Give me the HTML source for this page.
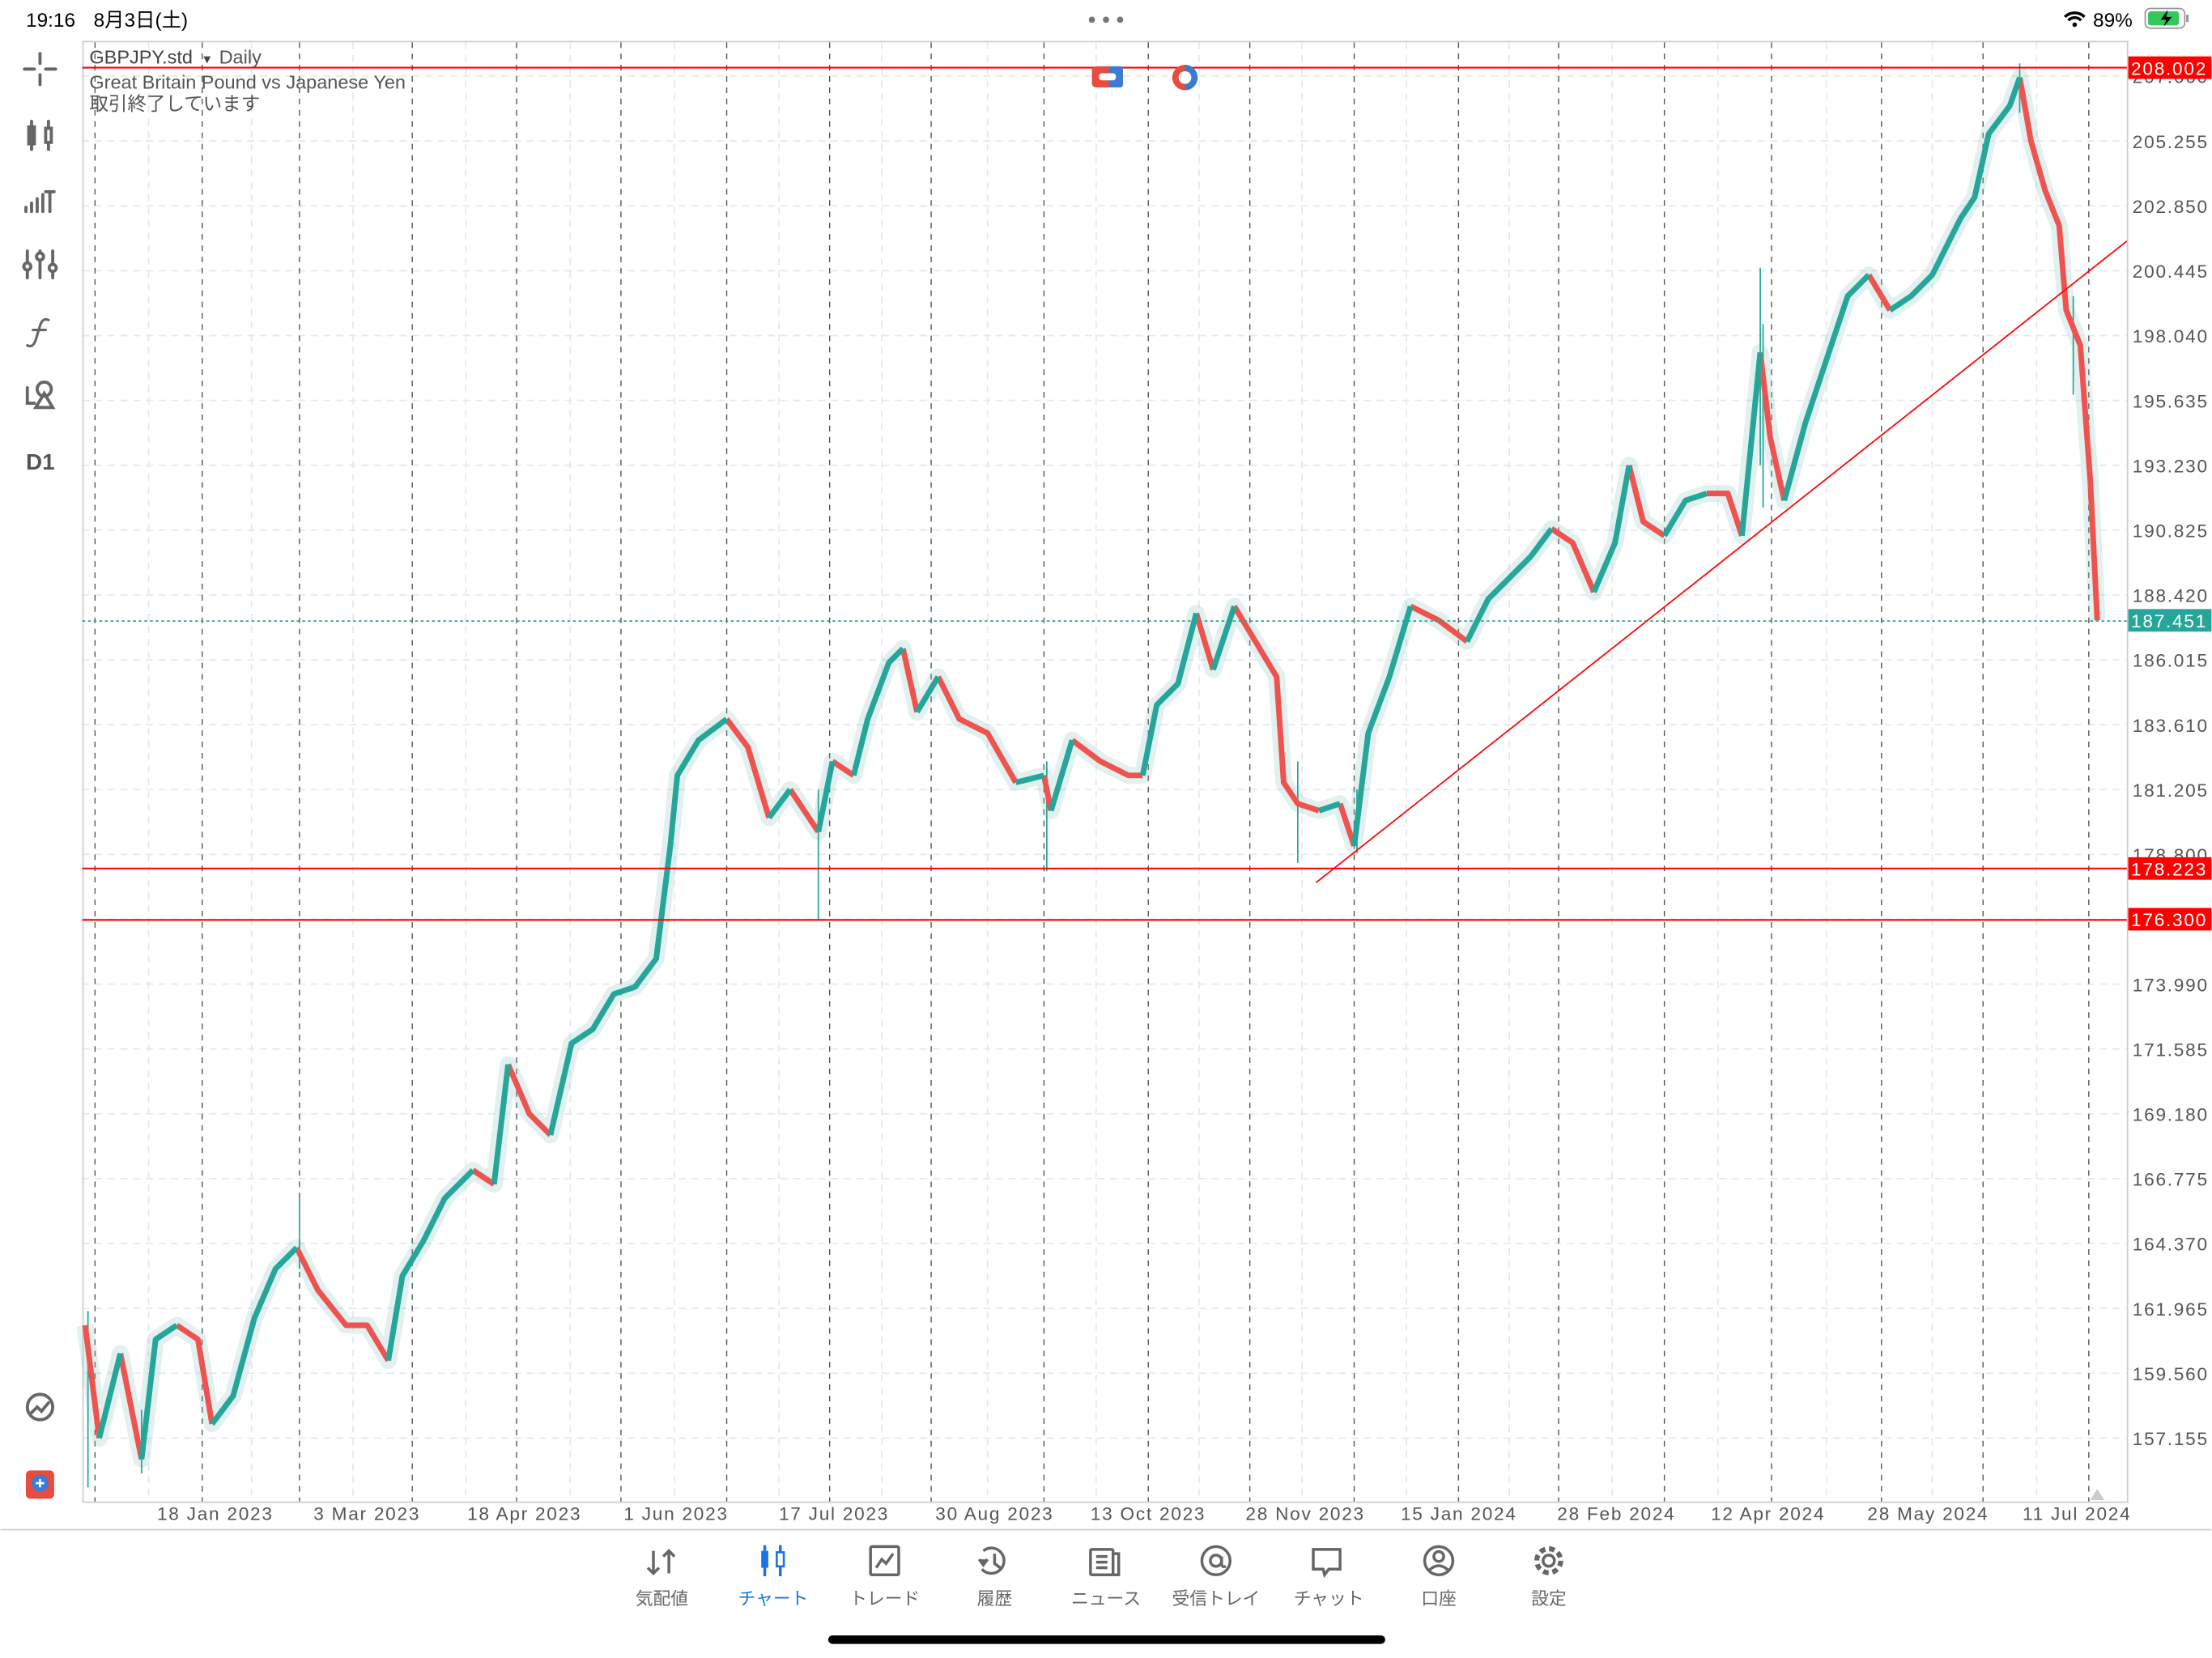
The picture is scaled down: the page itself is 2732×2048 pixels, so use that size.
<!DOCTYPE html>
<html><head><meta charset="utf-8"><style>
html,body{margin:0;padding:0;background:#fff;width:2732px;height:2048px;overflow:hidden}
svg{display:block}
text{font-family:"Liberation Sans","Noto Sans CJK JP",sans-serif}
</style></head><body>
<svg width="2732" height="2048" viewBox="0 0 1568 1176" xmlns="http://www.w3.org/2000/svg">
<rect width="1568" height="1176" fill="#fff"/>
<text x="18" y="19" font-size="14" fill="#000">19:16</text>
<text x="66" y="19" font-size="14" fill="#000">8月3日(土)</text>
<g fill="#777"><circle cx="774" cy="14" r="2.2"/><circle cx="784" cy="14" r="2.2"/><circle cx="794" cy="14" r="2.2"/></g>
<path d="M1464 12 a10 10 0 0 1 14 0 M1466.5 14.5 a6 6 0 0 1 9 0" stroke="#000" stroke-width="2" fill="none"/><circle cx="1471" cy="17.5" r="1.6"/>
<text x="1484" y="19" font-size="14" fill="#000">89%</text>
<rect x="1521" y="6" width="28" height="14" rx="3.5" fill="none" stroke="#999" stroke-width="1"/>
<rect x="1523" y="8" width="22" height="10" rx="2" fill="#34c759"/>
<rect x="1550" y="10.5" width="1.8" height="5" fill="#999"/>
<path d="M1537 7 l-5 7 h4 l-2 5 l6 -7 h-4 z" fill="#000"/>

<g stroke="#e3e9ef" stroke-width="1" stroke-dasharray="5,4">
<path d="M58 54H1508M58 100H1508M58 146H1508M58 192H1508M58 238H1508M58 284H1508M58 330H1508M58 376H1508M58 422H1508M58 468H1508M58 514H1508M58 560H1508M58 606H1508M58 652H1508M58 698H1508M58 744H1508M58 790H1508M58 836H1508M58 882H1508M58 928H1508M58 974H1508M58 1020H1508"/>
<path d="M105 30V1065M178 30V1065M250 30V1065M330 30V1065M404 30V1065M478 30V1065M552 30V1065M625 30V1065M700 30V1065M777 30V1065M850 30V1065M923 30V1065M997 30V1065M1070 30V1065M1143 30V1065M1218 30V1065M1295 30V1065M1370 30V1065M1444 30V1065"/>
</g>
<g stroke="#555" stroke-width="0.8" stroke-dasharray="4,4">
<path d="M67 30V1065M143 30V1065M212 30V1065M292 30V1065M366 30V1065M440 30V1065M515 30V1065M588 30V1065M660 30V1065M740 30V1065M814 30V1065M886 30V1065M960 30V1065M1034 30V1065M1105 30V1065M1180 30V1065M1256 30V1065M1334 30V1065M1406 30V1065M1481 30V1065"/>
</g>
<rect x="58.5" y="29.5" width="1450" height="1036" fill="none" stroke="#ccc" stroke-width="1"/>
<line x1="0" y1="1085" x2="1568" y2="1085" stroke="#ccc" stroke-width="1"/>

<polyline fill="none" stroke="#8cc7c0" stroke-opacity="0.25" stroke-width="12" stroke-linejoin="round" points="60,940 70,1020 85,960 100,1035 110,950 125,940 140,950 150,1010 165,990 180,935 195,900 210,885 225,915 245,940 260,940 275,965 285,905 300,880 315,850 335,830 350,840 360,755 375,790 390,805 405,740 420,730 435,705 450,700 465,680 475,600 480,550 495,525 515,510 530,530 545,580 560,560 580,590 590,540 605,550 615,510 630,470 640,460 650,505 665,480 680,510 700,520 720,555 740,550 745,575 760,525 780,540 800,550 810,550 820,500 835,485 848,435 860,475 875,430 890,455 905,480 910,555 920,570 935,575 950,570 960,600 970,520 985,480 1000,430 1020,440 1040,455 1055,425 1070,410 1085,395 1100,375 1115,385 1130,420 1145,385 1155,330 1165,370 1180,380 1195,355 1210,350 1225,350 1235,380 1248,250 1255,310 1265,355 1280,300 1295,255 1310,210 1325,195 1340,220 1355,210 1370,195 1390,155 1400,140 1410,95 1425,75 1432,55 1440,100 1450,135 1460,160 1465,220 1475,245 1482,340 1487,440"/>
<g fill="none" stroke-width="1" stroke="#26a69a">
<path d="M62 930V1055M100 1000V1045M212 850V900M580 560V652M742 540V618M920 540V612M962 560V605M1248 190V330M1250 230V360M1432 45V80M1470 210V280"/>
</g>
<g fill="none" stroke-width="4" stroke-linejoin="round" stroke="#ef5350">
<polyline points="60,940 70,1020"/>
<polyline points="85,960 100,1035"/>
<polyline points="125,940 140,950 150,1010"/>
<polyline points="210,885 225,915 245,940 260,940 275,965"/>
<polyline points="335,830 350,840"/>
<polyline points="360,755 375,790 390,805"/>
<polyline points="515,510 530,530 545,580"/>
<polyline points="560,560 580,590"/>
<polyline points="590,540 605,550"/>
<polyline points="640,460 650,505"/>
<polyline points="665,480 680,510 700,520 720,555"/>
<polyline points="740,550 745,575"/>
<polyline points="760,525 780,540 800,550 810,550"/>
<polyline points="848,435 860,475"/>
<polyline points="875,430 890,455 905,480 910,555 920,570 935,575"/>
<polyline points="950,570 960,600"/>
<polyline points="1000,430 1020,440 1040,455"/>
<polyline points="1100,375 1115,385 1130,420"/>
<polyline points="1155,330 1165,370 1180,380"/>
<polyline points="1210,350 1225,350 1235,380"/>
<polyline points="1248,250 1255,310 1265,355"/>
<polyline points="1325,195 1340,220"/>
<polyline points="1432,55 1440,100 1450,135 1460,160 1465,220 1475,245 1482,340 1487,440"/>
</g>
<g fill="none" stroke-width="4" stroke-linejoin="round" stroke="#26a69a">
<polyline points="70,1020 85,960"/>
<polyline points="100,1035 110,950 125,940"/>
<polyline points="150,1010 165,990 180,935 195,900 210,885"/>
<polyline points="275,965 285,905 300,880 315,850 335,830"/>
<polyline points="350,840 360,755"/>
<polyline points="390,805 405,740 420,730 435,705 450,700 465,680 475,600 480,550 495,525 515,510"/>
<polyline points="545,580 560,560"/>
<polyline points="580,590 590,540"/>
<polyline points="605,550 615,510 630,470 640,460"/>
<polyline points="650,505 665,480"/>
<polyline points="720,555 740,550"/>
<polyline points="745,575 760,525"/>
<polyline points="810,550 820,500 835,485 848,435"/>
<polyline points="860,475 875,430"/>
<polyline points="935,575 950,570"/>
<polyline points="960,600 970,520 985,480 1000,430"/>
<polyline points="1040,455 1055,425 1070,410 1085,395 1100,375"/>
<polyline points="1130,420 1145,385 1155,330"/>
<polyline points="1180,380 1195,355 1210,350"/>
<polyline points="1235,380 1248,250"/>
<polyline points="1265,355 1280,300 1295,255 1310,210 1325,195"/>
<polyline points="1340,220 1355,210 1370,195 1390,155 1400,140 1410,95 1425,75 1432,55"/>
</g>

<line x1="58" y1="48" x2="1508" y2="48" stroke="#f00" stroke-width="1.2"/>
<line x1="58" y1="616" x2="1508" y2="616" stroke="#f00" stroke-width="1.2"/>
<line x1="58" y1="652.5" x2="1508" y2="652.5" stroke="#f00" stroke-width="1.2"/>
<line x1="58" y1="440.5" x2="1508" y2="440.5" stroke="#26a69a" stroke-width="1" stroke-dasharray="2,2"/>
<line x1="933" y1="626" x2="1508" y2="171" stroke="#f00" stroke-width="1"/>

<g font-size="13" fill="#555" letter-spacing="1">
<text x="1512" y="59">207.660</text><text x="1512" y="105">205.255</text><text x="1512" y="151">202.850</text><text x="1512" y="197">200.445</text><text x="1512" y="243">198.040</text><text x="1512" y="289">195.635</text><text x="1512" y="335">193.230</text><text x="1512" y="381">190.825</text><text x="1512" y="427">188.420</text><text x="1512" y="473">186.015</text><text x="1512" y="519">183.610</text><text x="1512" y="565">181.205</text><text x="1512" y="611">178.800</text><text x="1512" y="703">173.990</text><text x="1512" y="749">171.585</text><text x="1512" y="795">169.180</text><text x="1512" y="841">166.775</text><text x="1512" y="887">164.370</text><text x="1512" y="933">161.965</text><text x="1512" y="979">159.560</text><text x="1512" y="1025">157.155</text>
<text x="111" y="1078">18 Jan 2023</text><text x="222" y="1078">3 Mar 2023</text><text x="331" y="1078">18 Apr 2023</text><text x="442" y="1078">1 Jun 2023</text><text x="552" y="1078">17 Jul 2023</text><text x="663" y="1078">30 Aug 2023</text><text x="773" y="1078">13 Oct 2023</text><text x="883" y="1078">28 Nov 2023</text><text x="993" y="1078">15 Jan 2024</text><text x="1104" y="1078">28 Feb 2024</text><text x="1213" y="1078">12 Apr 2024</text><text x="1324" y="1078">28 May 2024</text><text x="1434" y="1078">11 Jul 2024</text>
</g>
<g font-size="13" fill="#fff" letter-spacing="1">
<rect x="1509" y="40" width="59" height="16" fill="#f00"/><text x="1511" y="53">208.002</text>
<rect x="1509" y="432" width="59" height="16" fill="#26a69a"/><text x="1511" y="445">187.451</text>
<rect x="1509" y="608" width="59" height="16" fill="#f00"/><text x="1511" y="621">178.223</text>
<rect x="1509" y="644" width="59" height="16" fill="#f00"/><text x="1511" y="657">176.300</text>
</g>
<path d="M1482 1064 l5 -8 l5 8 z" fill="#ccc"/>

<text x="63" y="45" font-size="13.5" fill="#444">GBPJPY.std</text>
<text x="144" y="45" font-size="10" fill="#444">▾</text>
<text x="155" y="45" font-size="13.5" fill="#555">Daily</text>
<text x="63" y="63" font-size="13.5" fill="#555">Great Britain Pound vs Japanese Yen</text>
<text x="63" y="78" font-size="13.5" fill="#555">取引終了しています</text>
<rect x="774" y="47" width="22" height="15" rx="3" fill="#e74c3c"/><rect x="786" y="47" width="10" height="15" rx="2" fill="#3a7bd5"/><rect x="779" y="52" width="12" height="5" rx="2" fill="#fff"/>
<circle cx="840" cy="55" r="9" fill="#e74c3c"/><path d="M840 46 a9 9 0 0 1 0 18 z" fill="#3a7bd5"/><circle cx="840" cy="55" r="4.5" fill="#fff"/>

<g stroke="#666" stroke-width="2.2" fill="none" stroke-linecap="round">
<path d="M28 38 v7 M28 53 v7 M17 49 h7 M32 49 h7"/>
<path d="M22 86 v20 M34 86 v20"/><rect x="20" y="90" width="4" height="12" fill="#666"/><rect x="32" y="91" width="4" height="10" fill="#fff"/>
<path d="M18 150 v-3 M22 150 v-6 M26 150 v-9 M30 150 v-12 M35 150 v-14 M32 136 h6"/>
<path d="M19 178 v19 M28 178 v19 M37 178 v19"/><circle cx="19" cy="189" r="2.5" fill="#fff"/><circle cx="28" cy="182" r="2.5" fill="#fff"/><circle cx="37" cy="190" r="2.5" fill="#fff"/>
<path d="M34 227 q-4 -2 -6 4 l-3 10 q-2 6 -6 4 M23 234 h9" stroke-width="1.8"/>
<path d="M19 275 v11 h5"/><circle cx="31" cy="276" r="5"/><path d="M25 289 l6 -10 l6 10 z"/>
<path d="M19 998 a9 9 0 1 0 18 0 a9 9 0 1 0 -18 0 M22 1002 l4 -4 l3 3 l5 -6"/>
</g>
<text x="18" y="333" font-size="16" font-weight="bold" fill="#555">D1</text>
<rect x="18" y="1043" width="20" height="20" rx="3" fill="#e74c3c"/><circle cx="28" cy="1052" r="6" fill="#3a7bd5"/><path d="M25 1052 h6 M28 1049 v6" stroke="#fff" stroke-width="1.5"/>

<g fill="none" stroke="#666" stroke-width="2">
<path d="M463 1100 v16 M459 1112 l4 4 l4 -4 M474 1116 v-16 M470 1104 l4 -4 l4 4"/>
<rect x="617" y="1097" width="20" height="20" rx="1"/><path d="M621 1112 l4 -6 l3 3 l5 -7"/>
<path d="M697 1100 a9 9 0 1 1 -1 13 M705 1102 v7 l4 3"/><path d="M694 1106 l3 4 l3 -4" fill="#666"/>
<rect x="773" y="1099" width="16" height="18" rx="1"/><path d="M789 1102 h4 v15 h-4 M777 1104 h8 M777 1108 h8 M777 1112 h8"/>
<circle cx="862" cy="1107" r="10"/><circle cx="862" cy="1107" r="4"/><path d="M866 1104 v5 q0 3 3 2"/>
<path d="M931 1099 h19 v14 h-8 l-3 4 l-1 -4 h-7 z"/>
<circle cx="1020" cy="1107" r="10"/><circle cx="1020" cy="1104" r="3.5"/><path d="M1013 1114 q7 -7 14 0"/>
<circle cx="1098" cy="1107" r="4"/><circle cx="1098" cy="1107" r="8.5" stroke-dasharray="4,2.7" stroke-width="3.5"/>
</g>
<g><path d="M542 1096 v22 M553 1096 v22" stroke="#1a73e8" stroke-width="2"/><rect x="539.5" y="1100" width="5" height="12" fill="#1a73e8"/><rect x="550.5" y="1101" width="5" height="10" fill="#fff" stroke="#1a73e8" stroke-width="1.5"/></g>
<g font-size="12.5" fill="#666" text-anchor="middle">
<text x="469" y="1138">気配値</text><text x="548" y="1138" fill="#1a73e8">チャート</text><text x="627" y="1138">トレード</text><text x="705" y="1138">履歴</text><text x="784" y="1138">ニュース</text><text x="862" y="1138">受信トレイ</text><text x="942" y="1138">チャット</text><text x="1020" y="1138">口座</text><text x="1098" y="1138">設定</text>
</g>
<rect x="587" y="1160" width="395" height="6" rx="3" fill="#000"/>
</svg>
</body></html>
